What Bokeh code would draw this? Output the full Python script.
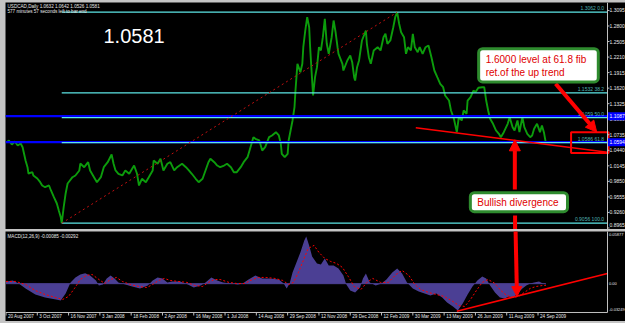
from bokeh.plotting import figure
from bokeh.layouts import column
from bokeh.models import Range1d, Label, Arrow, NormalHead, Span
from bokeh.core.properties import value
from bokeh.embed import file_html
from bokeh.resources import INLINE

# ---------------- data ----------------
symbol = "USDCAD,Daily"
ohlc = [1.0632, 1.0642, 1.0526, 1.0581]
timer_text = "577 minutes 57 seconds left to bar end"

price_bar = [0, 3, 6, 9, 12, 15, 17, 20, 22, 23, 27, 28, 32, 35, 37, 40, 44, 46, 49, 52,
             54, 56, 57, 59, 61, 63, 64, 68, 71, 75, 76, 80, 84, 86, 90, 93, 97, 100, 104, 108,
             110, 112, 115, 119, 122, 126, 129, 131, 134, 136, 139, 143, 146, 150, 151, 155, 158, 161, 165, 168,
             172, 175, 180, 184, 187, 190, 194, 197, 201, 204, 207, 209, 213, 216, 219, 223, 226, 230, 233, 236,
             240, 243, 247, 250, 253, 255, 259, 260, 262, 265, 269, 272, 276, 279, 281, 282, 285, 288, 289, 291,
             293, 295, 296, 297, 298, 301, 303, 304, 306, 308, 310, 311, 312, 314, 316, 318, 320, 322, 324, 326,
             328, 330, 333, 335, 337, 339, 340, 344, 345, 349, 352, 354, 356, 357, 359, 361, 364, 368, 369, 371,
             373, 376, 380, 383, 386, 388, 390, 393, 396, 398, 400, 402, 404, 407, 409, 411, 414, 416, 418, 421,
             423, 426, 429, 432, 435, 438, 441, 444, 447, 449, 453, 455, 458, 461, 463, 466, 468, 471, 472, 475,
             478, 480, 483, 487, 489, 491, 493, 495, 498, 501, 504, 506, 509, 513, 515, 518, 520, 523, 525, 528,
             530, 533, 536, 538, 540, 543, 546, 548, 550, 552]
price_close = [1.0588, 1.0626, 1.0550, 1.0607, 1.0531, 1.0569, 1.0499, 1.0246, 1.0119, 0.9999,
               1.0024, 0.9962, 0.9905, 0.9834, 0.9772, 0.9739, 0.9772, 0.9677, 0.9550, 0.9430,
               0.9297, 0.9170, 0.9056, 0.9360, 0.9620, 0.9810, 0.9834, 0.9929, 0.9962, 1.0057,
               1.0189, 1.0119, 1.0214, 1.0057, 0.9929, 0.9834, 0.9929, 1.0119, 1.0214, 1.0360,
               1.0184, 1.0057, 0.9994, 0.9962, 1.0057, 0.9994, 1.0089, 1.0151, 0.9994, 0.9772,
               0.9899, 0.9834, 0.9929, 1.0057, 1.0246, 1.0184, 1.0279, 1.0057, 1.0184, 1.0214,
               1.0057, 1.0119, 1.0184, 1.0119, 1.0057, 0.9994, 0.9899, 0.9834, 0.9899, 1.0057,
               1.0214, 1.0279, 1.0214, 1.0151, 1.0119, 1.0151, 1.0184, 1.0119, 1.0024, 1.0024,
               1.0119, 1.0214, 1.0309, 1.0499, 1.0689, 1.0658, 1.0626, 1.0563, 1.0436, 1.0499,
               1.0689, 1.0721, 1.0784, 1.0721, 1.0563, 1.0373, 1.0309, 1.0373, 1.0626, 1.0816,
               1.1006, 1.1258, 1.1575, 1.1828, 1.2082, 1.1923, 1.2082, 1.2397, 1.2714, 1.2967,
               1.2777, 1.2397, 1.2082, 1.1480, 1.1828, 1.2018, 1.2397, 1.2335, 1.2587, 1.2937,
               1.2462, 1.2272, 1.2587, 1.2904, 1.2682, 1.2397, 1.2272, 1.2082, 1.1955, 1.2145,
               1.2240, 1.2113, 1.1828, 1.1765, 1.2018, 1.2145, 1.2525, 1.2714, 1.2462, 1.2208,
               1.2082, 1.2335, 1.2397, 1.2335, 1.2587, 1.2652, 1.2462, 1.2525, 1.2777, 1.2967,
               1.3062, 1.2842, 1.2682, 1.2587, 1.2272, 1.2397, 1.2335, 1.2652, 1.2397, 1.2303,
               1.2397, 1.2272, 1.2397, 1.2430, 1.2208, 1.1955, 1.1828, 1.1702, 1.1638, 1.1480,
               1.1385, 1.1196, 1.1038, 1.0784, 1.1069, 1.1006, 1.1196, 1.1133, 1.1385, 1.1448,
               1.1575, 1.1543, 1.1627, 1.1638, 1.1638, 1.1385, 1.1196, 1.1038, 1.0943, 1.0816,
               1.0753, 1.0689, 1.0784, 1.0943, 1.1069, 1.0879, 1.0816, 1.1006, 1.0784, 1.1069,
               1.0879, 1.0753, 1.0689, 1.0721, 1.0848, 1.0943, 1.0784, 1.0911, 1.0784, 1.0581]

macd_bar = [0, 7, 13, 20, 30, 40, 51, 56, 61, 66, 71, 76, 81, 86, 92, 95, 99, 103, 107, 111,
            115, 122, 129, 137, 145, 150, 155, 160, 165, 170, 178, 186, 192, 199, 204, 210, 216, 222, 230, 237,
            242, 248, 255, 262, 270, 279, 284, 287, 290, 293, 297, 301, 305, 307, 310, 313, 318, 322, 326, 330,
            335, 340, 345, 348, 352, 357, 362, 365, 368, 372, 378, 384, 389, 395, 400, 405, 410, 416, 422, 428,
            434, 440, 446, 451, 457, 462, 467, 472, 477, 482, 487, 491, 495, 500, 505, 510, 514, 519, 524, 528,
            532, 536, 540, 545, 549, 552]
macd_val = [0.0025, 0.0036, 0.0002, -0.0054, -0.0122, -0.0156, -0.0178, -0.0189, -0.0110, 0.0014,
            0.0070, 0.0104, 0.0118, 0.0092, 0.0036, -0.0020, -0.0009, 0.0059, 0.0092, 0.0059,
            0.0014, -0.0009, -0.0032, -0.0054, -0.0020, 0.0036, 0.0070, 0.0059, 0.0014, 0.0025,
            0.0025, -0.0009, -0.0043, -0.0020, 0.0014, 0.0070, 0.0036, 0.0014, 0.0002, -0.0009,
            0.0002, 0.0047, 0.0092, 0.0059, 0.0059, 0.0047, 0.0002, -0.0054, 0.0002, 0.0126,
            0.0239, 0.0352, 0.0487, 0.0532, 0.0431, 0.0307, 0.0228, 0.0216, 0.0284, 0.0205,
            0.0205, 0.0171, 0.0092, -0.0009, -0.0077, -0.0099, -0.0043, 0.0059, 0.0115, 0.0014,
            -0.0020, 0.0002, 0.0047, 0.0126, 0.0171, 0.0115, 0.0014, -0.0054, -0.0088, -0.0110,
            -0.0133, -0.0110, -0.0156, -0.0212, -0.0257, -0.0302, -0.0223, -0.0122, -0.0032, 0.0036,
            0.0081, 0.0059, -0.0020, -0.0099, -0.0156, -0.0167, -0.0144, -0.0156, -0.0099, -0.0054,
            -0.0020, 0.0002, 0.0014, 0.0025, 0.0002, -0.0009]

signal_bar = [0, 10, 20, 30, 40, 51, 58, 64, 70, 76, 82, 88, 95, 101, 107, 113, 119, 127, 136, 144,
              150, 156, 162, 168, 176, 185, 193, 201, 207, 213, 219, 228, 236, 244, 252, 258, 266, 275, 283, 289,
              294, 299, 304, 309, 315, 320, 326, 332, 338, 344, 350, 356, 363, 369, 375, 383, 391, 399, 405, 412,
              418, 424, 432, 440, 448, 457, 463, 469, 475, 481, 487, 493, 500, 506, 512, 518, 524, 530, 536, 542,
              549, 552]
signal_val = [0.0025, 0.0025, -0.0009, -0.0077, -0.0122, -0.0156, -0.0178, -0.0144, -0.0054, 0.0047,
              0.0092, 0.0104, 0.0047, 0.0002, 0.0047, 0.0070, 0.0025, -0.0009, -0.0032, -0.0043,
              -0.0009, 0.0036, 0.0059, 0.0036, 0.0025, 0.0014, -0.0020, -0.0032, 0.0014, 0.0047,
              0.0047, 0.0014, 0.0002, 0.0002, 0.0047, 0.0070, 0.0070, 0.0059, 0.0036, -0.0009,
              0.0014, 0.0126, 0.0261, 0.0397, 0.0431, 0.0352, 0.0284, 0.0250, 0.0228, 0.0183,
              0.0081, -0.0032, -0.0065, 0.0014, 0.0059, 0.0014, 0.0014, 0.0104, 0.0149, 0.0092,
              -0.0009, -0.0065, -0.0099, -0.0122, -0.0144, -0.0201, -0.0246, -0.0257, -0.0178, -0.0077,
              0.0014, 0.0047, 0.0002, -0.0077, -0.0133, -0.0156, -0.0144, -0.0099, -0.0054, -0.0032,
              -0.0020, -0.0020]
macd_header = "MACD(12,26,9) -0.00085 -0.00292"
macd_scale_top = 0.05877
macd_scale_bottom = -0.03249

date_tick_bar = [0, 32, 64, 96, 128, 160, 192, 224, 256, 288, 320, 352, 384, 416, 448, 480, 512, 544]
date_tick_label = ["20 Aug 2007", "3 Oct 2007", "16 Nov 2007", "3 Jan 2008", "18 Feb 2008",
                   "2 Apr 2008", "16 May 2008", "1 Jul 2008", "14 Aug 2008", "29 Sep 2008",
                   "12 Nov 2008", "29 Dec 2008", "12 Feb 2009", "30 Mar 2009", "13 May 2009",
                   "26 Jun 2009", "11 Aug 2009", "24 Sep 2009"]
price_tick = [0.8965, 0.9260, 0.9555, 0.9850, 1.0145, 1.0440, 1.0735, 1.1030,
              1.1325, 1.1620, 1.1915, 1.2210, 1.2505, 1.2800, 1.3095]

fib_levels = [1.3062, 1.1532, 1.1059, 1.0586, 0.9056]
fib_names = ["0.0", "38.2", "50.0", "61.8", "100.0"]
swing_bar = [57, 400]          # low, high
swing_price = [0.9056, 1.3062]
blue_levels = [1.1087, 1.0594]
trend_bar = [419, 615]
trend_price = [1.0867, 1.0404]
macd_trend_bar = [461, 615]
macd_trend_val = [-0.0310, 0.0115]

note_fib = "1.6000 level at 61.8 fib\nret.of the up trend"
note_div = "Bullish divergence"

# ---------------- geometry / style ----------------
PX_PER_BAR = 0.978
PRICE_PER_PX = 0.0018986
MACD_PER_PX = 0.0011267
X_START = -0.5
AXIS_X = X_START + 602 / PX_PER_BAR
X_END = X_START + 620 / PX_PER_BAR
P_TOP = 1.3246
P_BOT = P_TOP - 227 * PRICE_PER_PX
M_TOP = macd_scale_top
M_AXIS = macd_scale_bottom
M_BOT = M_TOP - 90 * MACD_PER_PX

FONT = value("Liberation Sans")
AX_COL = "#c0c0c0"
TXT_COL = "#e8e8e8"
RED = "#ff0000"
SMALL = "4.6px"


def make_fig(h, y0, y1):
    p = figure(width=620, height=h, x_range=Range1d(X_START, X_END), y_range=Range1d(y0, y1),
               toolbar_location=None, output_backend="svg", x_axis_location=None,
               y_axis_location=None, min_border=0, background_fill_color="black",
               border_fill_color="black", outline_line_color=None)
    p.grid.visible = False
    return p


# ---------------- main price panel ----------------
p1 = make_fig(227, P_BOT, P_TOP)

p1.line(price_bar, price_close, color="#0c9c0c", line_width=1.9)

# horizontal blue lines
for lv in blue_levels:
    p1.segment(x0=X_START, x1=AXIS_X, y0=lv, y1=lv, color="#0000ff", line_width=2.2)

# fibonacci levels
p1.segment(x0=[swing_bar[0]] * len(fib_levels), x1=[AXIS_X] * len(fib_levels),
           y0=fib_levels, y1=fib_levels, color="#5ce6e6", line_width=1.2)
p1.text(x=[AXIS_X] * len(fib_levels), y=fib_levels,
        text=[f"{lv:.4f}  {nm}" for lv, nm in zip(fib_levels, fib_names)],
        text_align="right", text_baseline="bottom", x_offset=-2, y_offset=-1,
        text_font=FONT, text_font_size="5px", text_color="#4fb3b3")
p1.line(swing_bar, swing_price, color="#c01010", line_width=1, line_dash="2 3")

# support trend line and target box
p1.line(trend_bar, trend_price, color=RED, line_width=1.6)
p1.quad(left=577.8, right=616.1, bottom=1.0389, top=1.0784, fill_color=None,
        line_color=RED, line_width=2)

# price axis
p1.add_layout(Span(location=AXIS_X, dimension="height", line_color=AX_COL, line_width=1))
p1.segment(x0=[AXIS_X] * len(price_tick), x1=[AXIS_X + 2 / PX_PER_BAR] * len(price_tick),
           y0=price_tick, y1=price_tick, color=AX_COL)
p1.text(x=[AXIS_X] * len(price_tick), y=price_tick, text=[f"{v:.4f}" for v in price_tick],
        x_offset=2, y_offset=[-1] + [0] * (len(price_tick) - 1), text_align="left",
        text_baseline=["bottom"] + ["middle"] * (len(price_tick) - 1), text_font=FONT,
        text_font_size="5px", text_color=TXT_COL)
half = 4 * PRICE_PER_PX
p1.quad(left=[AXIS_X] * 2, right=[X_END] * 2, bottom=[v - half for v in blue_levels],
        top=[v + half for v in blue_levels], fill_color="#0000ff", line_color=None)
p1.text(x=[AXIS_X] * 2, y=blue_levels, text=[f"{v:.4f}" for v in blue_levels], x_offset=2,
        text_align="left", text_baseline="middle", text_font=FONT, text_font_size="5px",
        text_color="white")

# header texts
p1.text(x=[X_START], y=[P_TOP], text=[f"{symbol}  " + " ".join(f"{v:.4f}" for v in ohlc)],
        x_offset=2, y_offset=1.5, text_baseline="top", text_font=FONT, text_font_size=SMALL,
        text_color=TXT_COL)
p1.text(x=[X_START], y=[P_TOP], text=[timer_text], x_offset=2, y_offset=6.5,
        text_baseline="top", text_font=FONT, text_font_size=SMALL, text_color=TXT_COL)
p1.add_layout(Label(x=99.7, y=1.2610, text=f"{price_close[-1]:.4f}", text_color="white",
                    text_font="Liberation Sans", text_font_size="20px",
                    text_align="left", text_baseline="middle"))

# annotations
p1.add_layout(Arrow(end=NormalHead(size=11, fill_color=RED, line_color=RED),
                    x_start=562, y_start=1.1702, x_end=604, y_end=1.0787,
                    line_color=RED, line_width=4))
p1.add_layout(Arrow(end=NormalHead(size=11, fill_color=RED, line_color=RED),
                    x_start=520.3, y_start=0.9696, x_end=520.3, y_end=1.0639,
                    line_color=RED, line_width=4))
p1.segment(x0=520.5, x1=520.6, y0=0.9200, y1=0.8800, color=RED, line_width=4)
p1.add_layout(Label(x=483.3, y=1.2369, text=note_fib, text_color="#e00000",
                    text_font="Liberation Sans", text_font_size="10px",
                    text_align="left", text_baseline="top",
                    background_fill_color="white", border_line_color="#2e8b2e",
                    border_line_width=3, border_radius=4,
                    padding={"left": 7, "right": 12, "top": 5, "bottom": 4}))
p1.add_layout(Label(x=474.8, y=0.9635, text=note_div, text_color="#e00000",
                    text_font="Liberation Sans", text_font_size="10px",
                    text_align="left", text_baseline="top",
                    background_fill_color="white", border_line_color="#2e8b2e",
                    border_line_width=3, border_radius=4,
                    padding={"left": 7, "right": 9, "top": 4, "bottom": 4}))

# ---------------- MACD panel ----------------
p2 = make_fig(90, M_BOT, M_TOP)
p2.varea(x=macd_bar, y1=[0] * len(macd_bar), y2=macd_val, fill_color="#4b3f94")
p2.segment(x0=macd_bar[0], x1=macd_bar[-1], y0=0, y1=0, color="#4b3f94", line_width=1)
p2.line(signal_bar, signal_val, color=RED, line_width=1, line_dash="2 2")
p2.line(macd_trend_bar, macd_trend_val, color=RED, line_width=1.6)
p2.add_layout(Arrow(end=NormalHead(size=10, fill_color=RED, line_color=RED),
                    x_start=521, y_start=0.062, x_end=522.5, y_end=-0.0145,
                    line_color=RED, line_width=4))

# axes of the MACD panel / date strip
p2.segment(x0=X_START, x1=AXIS_X, y0=M_AXIS, y1=M_AXIS, color=AX_COL, line_width=1)
p2.segment(x0=AXIS_X, x1=AXIS_X, y0=M_AXIS, y1=M_TOP + 0.01, color=AX_COL, line_width=1)
tick_len = 3 * MACD_PER_PX
p2.segment(x0=date_tick_bar, x1=date_tick_bar, y0=[M_AXIS] * len(date_tick_bar),
           y1=[M_AXIS - tick_len] * len(date_tick_bar), color=AX_COL)
p2.text(x=date_tick_bar, y=[M_AXIS] * len(date_tick_bar), text=date_tick_label,
        x_offset=2, y_offset=2, text_align="left", text_baseline="top", text_font=FONT,
        text_font_size=SMALL, text_color=TXT_COL)
p2.text(x=[AXIS_X] * 3, y=[M_TOP, 0, M_AXIS],
        text=[f"{M_TOP:.5f}", "0.00", f"{M_AXIS:.5f}"], x_offset=1.5,
        y_offset=[1, 0, -1], text_align="left",
        text_baseline=["top", "middle", "bottom"], text_font=FONT,
        text_font_size="4px", text_color=TXT_COL)
p2.text(x=[X_START], y=[M_TOP], text=[macd_header], x_offset=2, y_offset=2,
        text_baseline="top", text_font=FONT, text_font_size=SMALL, text_color=TXT_COL)

p1.margin = (2, 0, 0, 5)
p2.margin = (2, 0, 2, 5)
layout = column(p1, p2, styles={"background-color": "#c4c4c4"})

open("out.html", "w").write(file_html(layout, INLINE))
